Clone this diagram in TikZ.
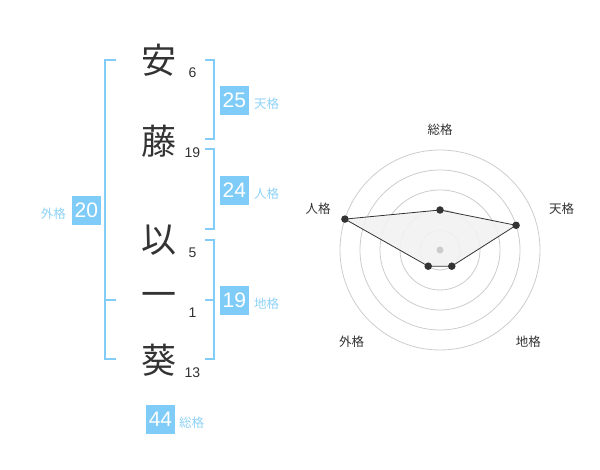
\documentclass[tikz,border=0pt]{standalone}
\usepackage{fontspec}
\setmainfont{Liberation Sans}
\newfontfamily\cjk{Noto Sans CJK JP}
\definecolor{txt}{HTML}{333333}
\definecolor{brk}{HTML}{82CDF7}
\definecolor{boxc}{HTML}{80CCF8}
\definecolor{lbl}{HTML}{8ED2F6}
\definecolor{ring}{HTML}{CCCCCC}
\definecolor{polyfill}{HTML}{F2F2F2}
\tikzset{
  kanji/.style={text=txt,font=\cjk\fontsize{35}{35}\selectfont,inner sep=0pt},
  stroke/.style={text=txt,font=\fontsize{14}{14}\selectfont,inner sep=0pt},
  scorebox/.style={fill=boxc,text=white,minimum width=29pt,minimum height=29pt,inner sep=0pt,font=\fontsize{21}{21}\selectfont},
  kaku/.style={text=lbl,font=\cjk\fontsize{12.5}{12.5}\selectfont,inner sep=0pt},
  bracket/.style={draw=brk,line width=2pt},
  radlbl/.style={text=txt,font=\cjk\fontsize{12.5}{12.5}\selectfont,inner sep=0pt},
  dot/.style={circle,fill=txt,inner sep=0pt,minimum size=7.5pt},
}
\begin{document}
\begin{tikzpicture}[x=1pt,y=-1pt]
\useasboundingbox (0,0) rectangle (600,470);
% characters
\node[kanji] (c1) at (159,60) {安};
\node[kanji] (c2) at (159,141) {藤};
\node[kanji] (c3) at (159,240) {以};
\node[kanji] (c4) at (159,300) {一};
\node[kanji] (c5) at (159,360) {葵};
\node[stroke] (n1) at (192.5,72.5) {6};
\node[stroke] (n2) at (192.5,153) {19};
\node[stroke] (n3) at (192.5,252.5) {5};
\node[stroke] (n4) at (192.5,312.5) {1};
\node[stroke] (n5) at (192.5,372.5) {13};
% brackets
\draw[bracket] (116,60) -- (105,60) -- (105,359) -- (116,359);
\draw[bracket] (105,300) -- (116,300);
\draw[bracket] (205,60) -- (214,60) -- (214,139) -- (205,139);
\draw[bracket] (205,149) -- (214,149) -- (214,229) -- (205,229);
\draw[bracket] (205,240) -- (214,240) -- (214,359) -- (205,359);
\draw[bracket] (205,300) -- (214,300);
% boxes
\node[scorebox] (ten) at (234.3,100.3) {25};
\node[kaku,anchor=west] (tenl) at (254,104) {天格};
\node[scorebox] (jin) at (234.3,190.3) {24};
\node[kaku,anchor=west] (jinl) at (254,194) {人格};
\node[scorebox] (gai) at (86.3,210.3) {20};
\node[kaku,anchor=east] (gail) at (66,214) {外格};
\node[scorebox] (chi) at (234.3,300.3) {19};
\node[kaku,anchor=west] (chil) at (254,304) {地格};
\node[scorebox] (sou) at (160.5,419) {44};
\node[kaku,anchor=west] (soul) at (179,423) {総格};
% radar
\coordinate (o) at (440,250);
\foreach \r in {20,40,60,80,100} \draw[ring,line width=0.8pt] (o) circle[radius=\r];
\coordinate (ps) at (440,210);
\coordinate (pt) at (516.1,225.3);
\coordinate (pc) at (451.8,266.2);
\coordinate (pg) at (428.2,266.2);
\coordinate (pj) at (344.9,219.1);
\fill[polyfill,opacity=0.9] (ps) -- (pt) -- (pc) -- (pg) -- (pj) -- cycle;
\draw[txt,line width=0.8pt] (ps) -- (pt) -- (pc) -- (pg) -- (pj) -- cycle;
\foreach \p in {ps,pt,pc,pg,pj} \node[dot] at (\p) {};
\node[circle,fill=ring,inner sep=0pt,minimum size=7pt] (ctr) at (o) {};
\node[radlbl] (ls) at (440,130) {総格};
\node[radlbl] (lt) at (561.7,209) {天格};
\node[radlbl] (lj) at (318,209) {人格};
\node[radlbl] (lg) at (351.7,341.7) {外格};
\node[radlbl] (lc) at (528.3,341.7) {地格};
\end{tikzpicture}
\end{document}
